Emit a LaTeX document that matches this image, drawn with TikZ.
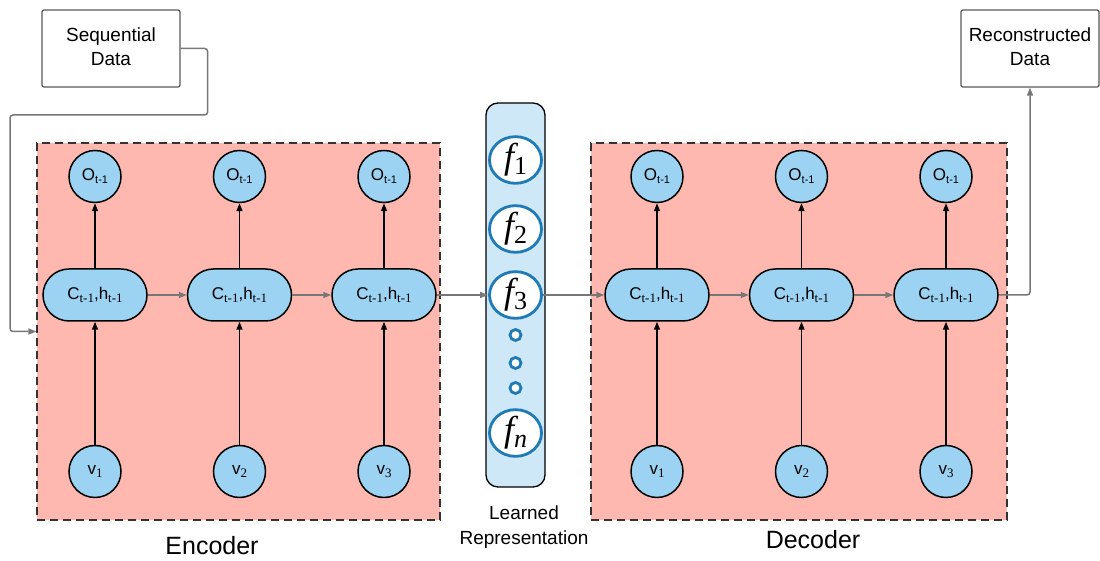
\documentclass[tikz,border=0pt]{standalone}
\usepackage{fontspec}
\setmainfont{Liberation Sans}
\newfontfamily\subfont{Liberation Serif}
\usetikzlibrary{positioning,arrows.meta,shapes.geometric}
\definecolor{boxred}{HTML}{FFB8B0}
\definecolor{cellblue}{HTML}{9CD2F2}
\definecolor{repblue}{HTML}{CFE8F7}
\definecolor{ringblue}{HTML}{1F7BB6}
\definecolor{linkgray}{HTML}{777777}
\newcommand{\ssub}[1]{\raisebox{-0.35ex}{\fontsize{11}{11}\selectfont #1}}
\newcommand{\rsub}[1]{\raisebox{-0.35ex}{\fontsize{13}{13}\subfont #1}}
\newcommand{\cellname}{C\rsub{t-1},h\rsub{t-1}}
\newcommand{\fname}[1]{{\subfont\itshape f}\raisebox{-0.3ex}{\fontsize{26}{26}\subfont #1}}
\tikzset{
  >={Triangle[length=8pt,width=6pt]},
  region/.style={draw=black!80, dash pattern=on 8pt off 5pt, fill=boxred, line width=1.3pt},
  cell/.style={draw, line width=1.5pt, fill=cellblue, rounded corners=26pt,
    minimum width=104pt, minimum height=52pt, inner sep=0pt,
    font=\fontsize{17}{17}\selectfont},
  unit/.style={draw, circle, line width=1.5pt, fill=cellblue, minimum size=52pt,
    inner sep=0pt, font=\fontsize{17}{17}\selectfont},
  feat/.style={draw=ringblue, ellipse, line width=2.8pt, fill=white,
    minimum width=52pt, minimum height=40pt, inner sep=0pt,
    font=\fontsize{36}{36}\selectfont},
  gapdot/.style={draw=ringblue, circle, line width=2.8pt, fill=white,
    minimum size=11pt, inner sep=0pt},
  databox/.style={draw=black!65, line width=1.3pt, rounded corners=2pt, minimum width=138pt,
    minimum height=77pt, align=center, font=\fontsize{19}{24}\selectfont},
  link/.style={->, linkgray, line width=1.5pt},
  feed/.style={->, black, line width=1.5pt},
}

\begin{document}
\begin{tikzpicture}[x=1pt, y=1pt, node distance=39pt]

\useasboundingbox (0,0) rectangle (1100,561);

% encoder and decoder regions
\node[region, minimum width=403pt, minimum height=377pt] (enc) at (238.5,229.5) {};
\node[region, minimum width=416pt, minimum height=377pt] (dec) at (799,229.5) {};

% learned representation
\node[draw, line width=1.3pt, fill=repblue, rounded corners=12pt,
  minimum width=59pt, minimum height=384pt] (rep) at (515.5,266) {};
\node[feat] (f1) at (515.5,401) {\fname{1}};
\node[feat] (f2) at (515.5,332) {\fname{2}};
\node[feat] (f3) at (515.5,266) {\fname{3}};
\node[gapdot] (g1) at (515.5,226) {};
\node[gapdot] (g2) at (515.5,198) {};
\node[gapdot] (g3) at (515.5,173) {};
\node[feat] (fn) at (515.5,128) {\fname{\itshape n}};

% encoder
\node[cell] (ec1) at (95,266) {\cellname};
\node[cell, right=of ec1] (ec2) {\cellname};
\node[cell, right=of ec2] (ec3) {\cellname};
\node[unit, above=65pt of ec1] (eo1) {O\ssub{t-1}};
\node[unit, above=65pt of ec2] (eo2) {O\ssub{t-1}};
\node[unit, above=65pt of ec3] (eo3) {O\ssub{t-1}};
\node[unit, below=123pt of ec1] (ev1) {v\rsub{1}};
\node[unit, below=123pt of ec2] (ev2) {v\rsub{2}};
\node[unit, below=123pt of ec3] (ev3) {v\rsub{3}};

% decoder
\node[cell] (dc1) at (657,266) {\cellname};
\node[cell, right=of dc1] (dc2) {\cellname};
\node[cell, right=of dc2] (dc3) {\cellname};
\node[unit, above=65pt of dc1] (do1) {O\ssub{t-1}};
\node[unit, above=65pt of dc2] (do2) {O\ssub{t-1}};
\node[unit, above=65pt of dc3] (do3) {O\ssub{t-1}};
\node[unit, below=123pt of dc1] (dv1) {v\rsub{1}};
\node[unit, below=123pt of dc2] (dv2) {v\rsub{2}};
\node[unit, below=123pt of dc3] (dv3) {v\rsub{3}};

% input and output data
\node[databox] (seq) at (111,512.5) {Sequential\\Data\vphantom{g}};
\node[databox] (rec) at (1030,512.5) {Reconstructed\\Data\vphantom{g}};

% labels
\node[font=\fontsize{25}{25}\selectfont] (enclabel) at (212,15) {Encoder};
\node[font=\fontsize{25}{25}\selectfont] (declabel) at (813,21) {Decoder};
\node[font=\fontsize{19}{25}\selectfont, align=center] (replabel) at (524,34) {Learned\\Representation};

% connectors
\draw[feed] (ec1) -- (eo1);
\draw[feed] (ec2) -- (eo2);
\draw[feed] (ec3) -- (eo3);
\draw[feed] (ev1) -- (ec1);
\draw[feed] (ev2) -- (ec2);
\draw[feed] (ev3) -- (ec3);
\draw[feed] (dc1) -- (do1);
\draw[feed] (dc2) -- (do2);
\draw[feed] (dc3) -- (do3);
\draw[feed] (dv1) -- (dc1);
\draw[feed] (dv2) -- (dc2);
\draw[feed] (dv3) -- (dc3);

\draw[link] (ec1) -- (ec2);
\draw[link] (ec2) -- (ec3);
\draw[link] (ec3) -- (f3);
\draw[link] (f3) -- (dc1);
\draw[link] (dc1) -- (dc2);
\draw[link] (dc2) -- (dc3);

\draw[link, rounded corners=3pt] (seq.east) -- ++(27,0) -- ++(0,-66.5)
  -- (10,446) |- (enc.west);
\draw[link, rounded corners=3pt] (dc3.east) -| (rec.south);

\end{tikzpicture}
\end{document}
